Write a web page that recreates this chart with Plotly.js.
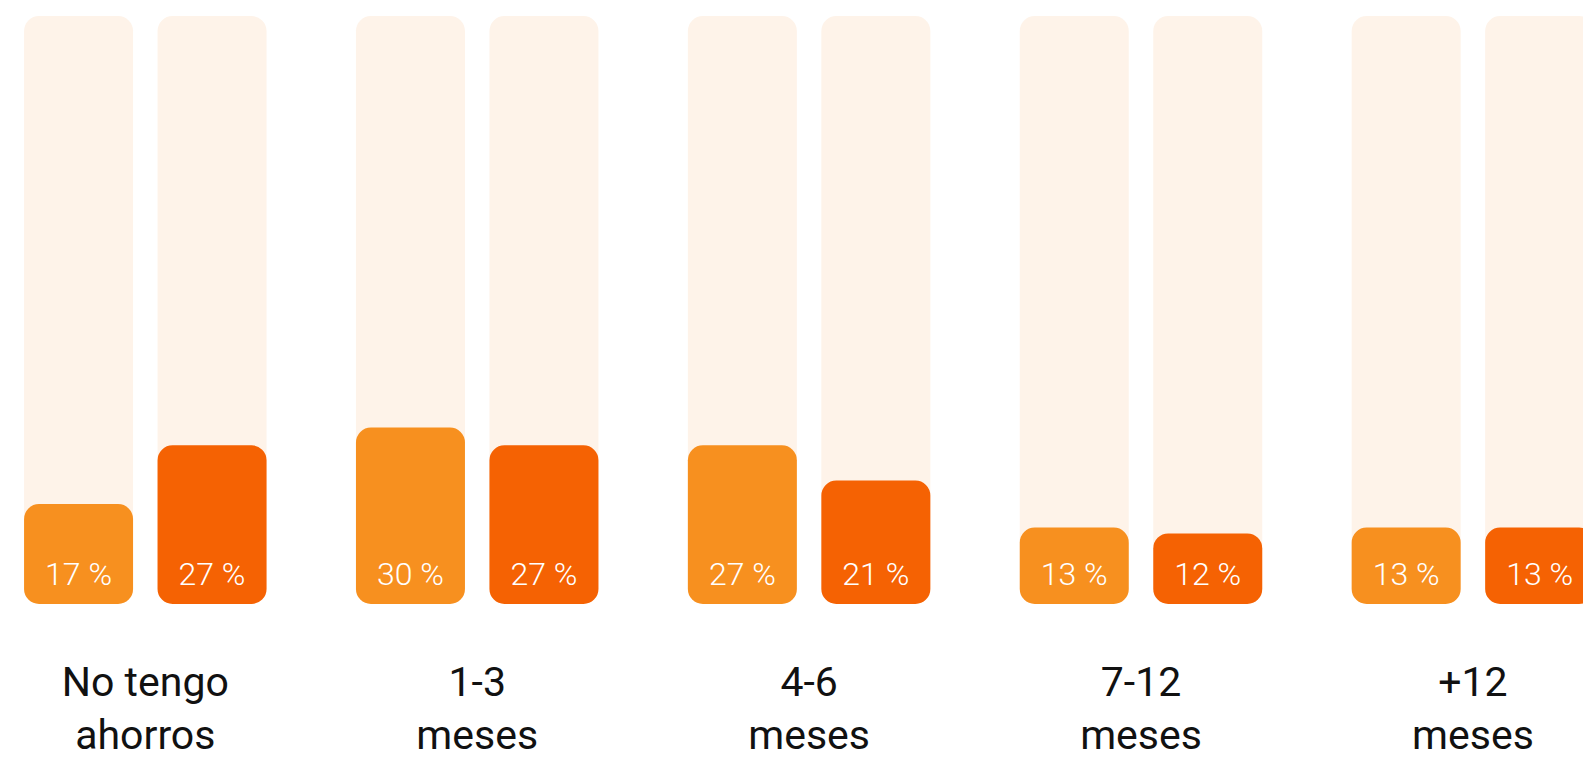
<!DOCTYPE html>
<html>
<head>
<meta charset="utf-8">
<script src="https://cdn.plot.ly/plotly-3.0.1.min.js"></script>
<style>
  html, body { margin: 0; padding: 0; background: #ffffff; }
  #chart { width: 1583px; height: 759px; }
</style>
</head>
<body>
<div id="chart"></div>
<script>
// ---- data ----
const categories = ['No tengo<br>ahorros', '1-3<br>meses', '4-6<br>meses', '7-12<br>meses', '+12<br>meses'];
const seriesA = [17, 30, 27, 13, 13];
const seriesB = [27, 27, 21, 12, 13];
const fullScale = [100, 100, 100, 100, 100];

// ---- style ----
const colA = '#F7901F';
const colB = '#F56203';
const colBg = '#FEF3E9';
const barW = 0.3284;
const gap = 0.0738;
const offA = -(barW + gap / 2);
const offB = gap / 2;
const radius = 15;

const idx = categories.map((_, i) => i);

function bar(vals, color, offset) {
  return {
    type: 'bar', x: idx, y: vals, base: vals.map(() => 0),
    offset: offset, width: barW,
    marker: { color: color, cornerradius: radius, line: { width: 0 } },
    hoverinfo: 'skip', showlegend: false
  };
}

function labelTrace(vals, offset) {
  return {
    type: 'scatter', mode: 'text',
    x: idx.map(i => i + offset + barW / 2),
    y: vals.map(() => 4.6),
    text: vals.map(v => v + ' %'),
    textposition: 'middle center',
    textfont: { family: 'Roboto, sans-serif', size: 32, color: '#ffffff', weight: 300 },
    hoverinfo: 'skip', showlegend: false, cliponaxis: false
  };
}

const traces = [
  bar(fullScale, colBg, offA),
  bar(fullScale, colBg, offB),
  bar(seriesA, colA, offA),
  bar(seriesB, colB, offB),
  labelTrace(seriesA, offA),
  labelTrace(seriesB, offB)
];

const layout = {
  width: 1583, height: 759,
  margin: { l: 0, r: 0, t: 16, b: 155, pad: 0 },
  paper_bgcolor: '#ffffff', plot_bgcolor: '#ffffff',
  barmode: 'overlay',
  showlegend: false,
  xaxis: {
    range: [-0.4378, 4.3317],
    tickvals: idx, ticktext: categories,
    showgrid: false, zeroline: false, showline: false, ticks: '',
    ticklabelstandoff: 50,
    tickfont: { family: 'Roboto, sans-serif', size: 41, color: '#111111' },
    fixedrange: true
  },
  yaxis: {
    range: [0, 100], visible: false, showgrid: false, zeroline: false, fixedrange: true
  },
  font: { family: 'Roboto, sans-serif' }
};

Plotly.newPlot('chart', traces, layout, { displayModeBar: false, staticPlot: true });
</script>
</body>
</html>
